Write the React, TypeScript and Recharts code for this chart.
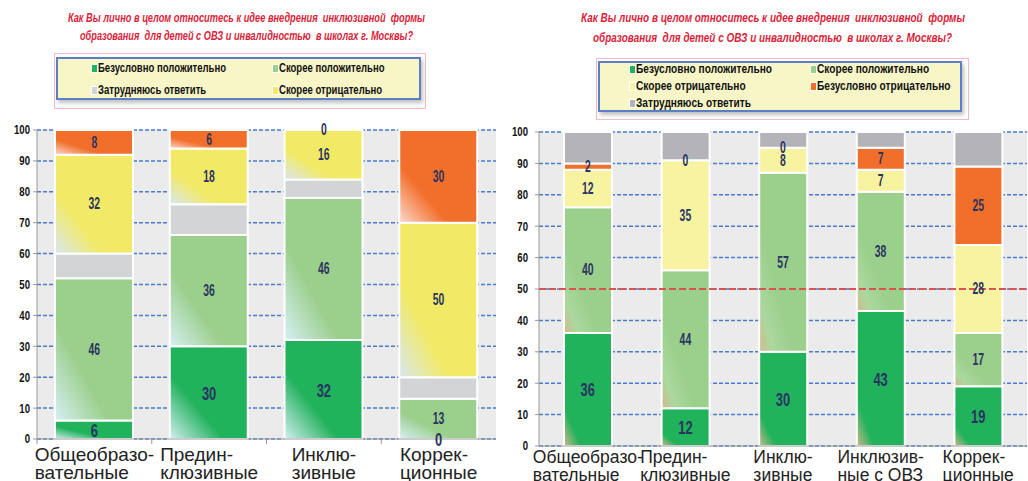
import React from "react"
import { ComposedChart, Bar, Scatter, XAxis, YAxis, CartesianGrid, ReferenceLine } from "recharts"

// left chart
const leftCategories = ["Общеобразо-\nвательные", "Предин-\nклюзивные", "Инклю-\nзивные", "Коррек-\nционные"]
const leftDefPos = [6, 30, 32, 0]
const leftRatherPos = [46, 36, 46, 13]
const leftHard = [8, 10, 6, 7]
const leftRatherNeg = [32, 18, 16, 50]
const leftDefNeg = [8, 6, 0, 30]

// right chart
const rightCategories = ["Общеобразо-\nвательные", "Предин-\nклюзивные", "Инклю-\nзивные", "Инклюзив-\nные с ОВЗ", "Коррек-\nционные"]
const rightDefPos = [36, 12, 30, 43, 19]
const rightRatherPos = [40, 44, 57, 38, 17]
const rightRatherNeg = [12, 35, 8, 7, 28]
const rightDefNeg = [2, 0, 0, 7, 25]
const rightHard = [10, 9, 5, 5, 11]

const yTicks = [0, 10, 20, 30, 40, 50, 60, 70, 80, 90, 100]

const titleLine1 = "Как Вы лично в целом относитесь к идее внедрения  инклюзивной  формы"
const titleLine2 = "образования  для детей с ОВЗ и инвалидностью  в школах г. Москвы?"

const nameDefPos = "Безусловно положительно"
const nameRatherPos = "Скорее положительно"
const nameHard = "Затрудняюсь ответить"
const nameRatherNeg = "Скорее отрицательно"
const nameDefNeg = "Безусловно отрицательно"

// rows with stack mid-points (for the value labels, so zeros get a label too)
function buildRows(categories: string[], series: Record<string, number[]>, order: string[]) {
    return categories.map((name, i) => {
        const row: Record<string, any> = { name }
        let base = 0
        order.forEach((k) => {
            const v = series[k][i]
            row[k] = v
            row[k + "Mid"] = base + v / 2
            base += v
        })
        return row
    })
}

const leftData = buildRows(leftCategories,
    { defPos: leftDefPos, ratherPos: leftRatherPos, hard: leftHard, ratherNeg: leftRatherNeg, defNeg: leftDefNeg },
    ["defPos", "ratherPos", "hard", "ratherNeg", "defNeg"])
const rightData = buildRows(rightCategories,
    { defPos: rightDefPos, ratherPos: rightRatherPos, ratherNeg: rightRatherNeg, defNeg: rightDefNeg, hard: rightHard },
    ["defPos", "ratherPos", "ratherNeg", "defNeg", "hard"])

const SANS = "'Liberation Sans', Arial, sans-serif"
const LABEL_COLOR = "#2a3460"

let ctx: CanvasRenderingContext2D | null = null
function measure(text: string, font: string) {
    if (!ctx) ctx = document.createElement("canvas").getContext("2d")
    if (!ctx) return text.length * 7
    ctx.font = font
    return ctx.measureText(text).width
}

const makeCatTick = (band: number, fontSize: number, dy: number, tickMarks: boolean) => (props: any) => {
    const { x, y, payload } = props
    const lines = String(payload.value).split("\n")
    const w = Math.max(...lines.map((l) => measure(l, `${fontSize}px ${SANS}`)))
    const x0 = x - w / 2
    return (
        <g>
            {tickMarks && <line x1={x - band / 2} x2={x - band / 2} y1={y} y2={y + 5} stroke="#999" />}
            <text x={x0} y={y + dy} fontSize={fontSize} fontFamily={SANS} fill="#222" textAnchor="start">
                {lines.map((l, i) => (
                    <tspan key={i} x={x0} dy={i === 0 ? 0 : 18}>{l}</tspan>
                ))}
            </text>
        </g>
    )
}

const YTick = (props: any) => {
    const { x, y, payload } = props
    return (
        <text transform={`translate(${x},${y}) scale(0.8,1)`} textAnchor="end" dominantBaseline="central"
            fontSize={12} fontWeight={700} fontFamily={SANS} fill="#111">{payload.value}</text>
    )
}

const valueLabel = (key: string, fontSize: number, sx: number) => (props: any) => {
    const { cx, cy, payload } = props
    if (cx == null || cy == null) return <g />
    return (
        <text transform={`translate(${cx},${cy}) scale(${sx},1)`} textAnchor="middle" dominantBaseline="central"
            fontSize={fontSize} fontWeight={700} fontFamily={SANS} fill={LABEL_COLOR}>{payload[key]}</text>
    )
}

// text squeezed to a given width (the original uses a condensed face)
function Fit({ text, font, width, left, top, color }: { text: string; font: string; width: number; left: number; top: number; color: string }) {
    const s = width / measure(text, font)
    return (
        <div style={{ position: "absolute", left, top, font, color, whiteSpace: "pre", lineHeight: "14px", transform: `scaleX(${s})`, transformOrigin: "left top" }}>{text}</div>
    )
}

type LegendItem = { name: string; color: string; x: number; y: number }

function LegendBox({ outer, inner, items, refWidth }: { outer: number[]; inner: number[]; items: LegendItem[]; refWidth: number }) {
    const font = `700 13px ${SANS}`
    const s = refWidth / measure(nameDefPos, font)
    return (
        <>
            <div style={{ position: "absolute", left: outer[0], top: outer[1], width: outer[2], height: outer[3], border: "1px solid #f2bcc4", boxSizing: "border-box" }} />
            <div style={{ position: "absolute", left: inner[0], top: inner[1], width: inner[2], height: inner[3], boxSizing: "border-box", background: "#f8f5c6", border: "2px solid #5a7fc4", boxShadow: "2px 3px 4px rgba(0,0,0,0.25)" }} />
            {items.map((it) => (
                <React.Fragment key={it.name}>
                    <div style={{ position: "absolute", left: it.x - 7, top: it.y - 4, width: 5, height: 7, background: it.color, border: "1px solid #fff" }} />
                    <div style={{ position: "absolute", left: it.x, top: it.y - 7, font, color: "#111", whiteSpace: "pre", lineHeight: "14px", transform: `scaleX(${s})`, transformOrigin: "left top" }}>{it.name}</div>
                </React.Fragment>
            ))}
        </>
    )
}

const titleFont = `italic 700 12px ${SANS}`
const TITLE_RED = "#d91f3a"

export default function App() {
    return (
        <div style={{ position: "absolute", left: 0, top: 0, width: 1028, height: 481, background: "#fff", overflow: "hidden" }}>
            <Fit text={titleLine1} font={titleFont} width={357} left={68} top={11} color={TITLE_RED} />
            <Fit text={titleLine2} font={titleFont} width={333} left={80} top={29} color={TITLE_RED} />
            <Fit text={titleLine1} font={titleFont} width={384} left={581} top={11} color={TITLE_RED} />
            <Fit text={titleLine2} font={titleFont} width={359} left={593} top={31} color={TITLE_RED} />

            <LegendBox
                outer={[54, 53, 372, 56]}
                inner={[56, 57, 365, 43]}
                refWidth={128}
                items={[
                    { name: nameDefPos, color: "#21b25c", x: 98, y: 68 },
                    { name: nameRatherPos, color: "#9bcf8c", x: 279, y: 68 },
                    { name: nameHard, color: "#d3d4d6", x: 98, y: 90 },
                    { name: nameRatherNeg, color: "#f2ea66", x: 279, y: 90 },
                ]}
            />
            <LegendBox
                outer={[596, 58, 373, 62]}
                inner={[598, 61, 364, 51]}
                refWidth={136}
                items={[
                    { name: nameDefPos, color: "#21b25c", x: 636, y: 69 },
                    { name: nameRatherPos, color: "#9bcf8c", x: 817, y: 69 },
                    { name: nameRatherNeg, color: "#f7f3a0", x: 636, y: 86 },
                    { name: nameDefNeg, color: "#f26f2b", x: 817, y: 86 },
                    { name: nameHard, color: "#b3b3b8", x: 636, y: 103 },
                ]}
            />

            {/* left chart */}
            <div style={{ position: "absolute", left: 0, top: 0 }}>
                <ComposedChart width={510} height={481} data={leftData} margin={{ top: 130, right: 14, bottom: 0, left: 0 }}>
                    <defs>
                        <linearGradient id="lDark" x1="0" y1="1" x2="0.7" y2="0.3">
                            <stop offset="0" stopColor="#d4eef2" />
                            <stop offset="0.5" stopColor="#21b25c" />
                            <stop offset="1" stopColor="#21b25c" />
                        </linearGradient>
                        <linearGradient id="lLight" x1="0" y1="1" x2="0.7" y2="0.3">
                            <stop offset="0" stopColor="#d8eff4" />
                            <stop offset="0.5" stopColor="#9bcf8c" />
                            <stop offset="1" stopColor="#9bcf8c" />
                        </linearGradient>
                        <linearGradient id="lYellow" x1="0" y1="1" x2="0.7" y2="0.3">
                            <stop offset="0" stopColor="#d8e6f0" />
                            <stop offset="0.45" stopColor="#f2ea66" />
                            <stop offset="1" stopColor="#f2ea66" />
                        </linearGradient>
                        <linearGradient id="lOrange" x1="0" y1="1" x2="0.7" y2="0.3">
                            <stop offset="0" stopColor="#fbd9cf" />
                            <stop offset="0.45" stopColor="#f26f2b" />
                            <stop offset="1" stopColor="#f26f2b" />
                        </linearGradient>
                    </defs>
                    <CartesianGrid vertical={false} fill="#ebebeb" stroke="#4a7bd0" strokeDasharray="4 2" strokeWidth={1.5} />
                    <XAxis dataKey="name" axisLine={{ stroke: "#999" }} tickLine={false} tickSize={0} tickMargin={0} height={42} interval={0} tick={makeCatTick(114.75, 19, 22, true)} />
                    <YAxis width={37} domain={[0, 100]} ticks={yTicks} interval={0} axisLine={{ stroke: "#999" }} tickLine={{ stroke: "#999" }} tickSize={4} tickMargin={3} tick={YTick} />
                    <Bar dataKey="defPos" name={nameDefPos} stackId="a" fill="url(#lDark)" stroke="#fff" strokeWidth={2} barSize={78} isAnimationActive={false} />
                    <Bar dataKey="ratherPos" name={nameRatherPos} stackId="a" fill="url(#lLight)" stroke="#fff" strokeWidth={2} barSize={78} isAnimationActive={false} />
                    <Bar dataKey="hard" name={nameHard} stackId="a" fill="#d3d4d6" stroke="#fff" strokeWidth={2} barSize={78} isAnimationActive={false} />
                    <Bar dataKey="ratherNeg" name={nameRatherNeg} stackId="a" fill="url(#lYellow)" stroke="#fff" strokeWidth={2} barSize={78} isAnimationActive={false} />
                    <Bar dataKey="defNeg" name={nameDefNeg} stackId="a" fill="url(#lOrange)" stroke="#fff" strokeWidth={2} barSize={78} isAnimationActive={false} />
                    <Scatter dataKey="defPosMid" shape={valueLabel("defPos", 19, 0.68)} isAnimationActive={false} />
                    <Scatter dataKey="ratherPosMid" shape={valueLabel("ratherPos", 16, 0.65)} isAnimationActive={false} />
                    <Scatter dataKey="ratherNegMid" shape={valueLabel("ratherNeg", 16, 0.65)} isAnimationActive={false} />
                    <Scatter dataKey="defNegMid" shape={valueLabel("defNeg", 16, 0.65)} isAnimationActive={false} />
                </ComposedChart>
            </div>

            {/* right chart */}
            <div style={{ position: "absolute", left: 500, top: 0 }}>
                <ComposedChart width={528} height={481} data={rightData} margin={{ top: 132, right: 1, bottom: 0, left: 0 }}>
                    <defs>
                        <linearGradient id="rDark" x1="0" y1="1" x2="0.6" y2="0.4">
                            <stop offset="0" stopColor="#cbb98c" />
                            <stop offset="0.3" stopColor="#21b25c" />
                            <stop offset="1" stopColor="#21b25c" />
                        </linearGradient>
                        <linearGradient id="rLight" x1="0" y1="1" x2="0.6" y2="0.4">
                            <stop offset="0" stopColor="#d2b88c" />
                            <stop offset="0.25" stopColor="#acd89e" />
                            <stop offset="0.6" stopColor="#9bcf8c" />
                            <stop offset="1" stopColor="#9bcf8c" />
                        </linearGradient>
                    </defs>
                    <CartesianGrid vertical={false} fill="#ebebeb" stroke="#4a7bd0" strokeDasharray="4 2" strokeWidth={1.5} />
                    <XAxis dataKey="name" axisLine={{ stroke: "#999" }} tickLine={false} tickSize={0} tickMargin={0} height={35} interval={0} tick={makeCatTick(97.5, 17.5, 17, false)} />
                    <YAxis width={39} domain={[0, 100]} ticks={yTicks} interval={0} axisLine={{ stroke: "#999" }} tickLine={{ stroke: "#999" }} tickSize={4} tickMargin={7} tick={YTick} />
                    <Bar dataKey="defPos" name={nameDefPos} stackId="a" fill="url(#rDark)" stroke="#fff" strokeWidth={2} barSize={48} isAnimationActive={false} />
                    <Bar dataKey="ratherPos" name={nameRatherPos} stackId="a" fill="url(#rLight)" stroke="#fff" strokeWidth={2} barSize={48} isAnimationActive={false} />
                    <Bar dataKey="ratherNeg" name={nameRatherNeg} stackId="a" fill="#f7f3a0" stroke="#fff" strokeWidth={2} barSize={48} isAnimationActive={false} />
                    <Bar dataKey="defNeg" name={nameDefNeg} stackId="a" fill="#f26f2b" stroke="#fff" strokeWidth={2} barSize={48} isAnimationActive={false} />
                    <Bar dataKey="hard" name={nameHard} stackId="a" fill="#b3b3b8" stroke="#fff" strokeWidth={2} barSize={48} isAnimationActive={false} />
                    <ReferenceLine y={50} stroke="#d9534f" strokeWidth={2} strokeDasharray="7 3" />
                    <Scatter dataKey="defPosMid" shape={valueLabel("defPos", 19, 0.68)} isAnimationActive={false} />
                    <Scatter dataKey="ratherPosMid" shape={valueLabel("ratherPos", 16, 0.65)} isAnimationActive={false} />
                    <Scatter dataKey="ratherNegMid" shape={valueLabel("ratherNeg", 16, 0.65)} isAnimationActive={false} />
                    <Scatter dataKey="defNegMid" shape={valueLabel("defNeg", 16, 0.65)} isAnimationActive={false} />
                </ComposedChart>
            </div>
        </div>
    )
}
